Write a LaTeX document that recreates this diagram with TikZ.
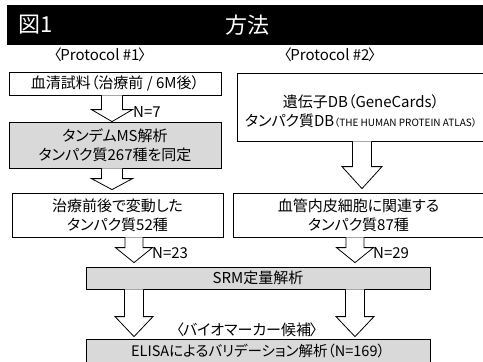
\documentclass[tikz,border=0pt]{standalone}
\usepackage{fontspec}
\setmainfont{Noto Sans CJK JP}[RawFeature=+palt]
\usetikzlibrary{calc}
\definecolor{boxgray}{HTML}{D9D9D9}
\newcommand{\blockarr}[7]{%
  \draw[blk] ($(#1.south -| #3)+(-#4,0)$) -- ($(#2.north -| #3)+(-#4,-#6-#7)$)
    -- ($(#2.north -| #3)+(-#5,-#6-#7)$) -- ($(#2.north -| #3)+(0,-#7)$)
    -- ($(#2.north -| #3)+(#5,-#6-#7)$) -- ($(#2.north -| #3)+(#4,-#6-#7)$)
    -- ($(#1.south -| #3)+(#4,0)$);
}
\newcommand{\lbr}{〈\kern-1pt}
\newcommand{\rbr}{\kern-1pt〉}
\begin{document}
\begin{tikzpicture}[x=1pt,y=-1pt,
  txt/.style={font=\fontsize{15}{19}\selectfont},
  box/.style={txt, draw=black, line width=0.8pt, inner sep=0pt, align=center},
  graybox/.style={box, fill=boxgray},
  lbl/.style={txt, inner sep=0pt},
  blk/.style={draw=black, fill=white, line width=0.8pt, line join=miter}]
\useasboundingbox (0,0) rectangle (483,362);
\clip (0,0) rectangle (483,362);
% title bar
\node[fill=black, inner sep=0pt, minimum width=480pt, minimum height=40pt] (bar) at (247,25) {};
\node[text=white, font=\fontsize{22}{22}\selectfont, inner sep=0pt] (fig) at (36,25) {図1};
\node[text=white, font=\fontsize{22}{22}\selectfont, inner sep=0pt] (ttl) at (247,25) {方法};
% protocol labels
\node[lbl] (p1) at (100,55) {\lbr Protocol \#1\rbr};
\node[lbl] (p2) at (330,55) {\lbr Protocol \#2\rbr};
% left column
\node[box, minimum width=212pt, minimum height=23pt] (s1) at (115,83.5) {血清試料（治療前 / 6M後）};
\node[graybox, minimum width=212pt, minimum height=46pt] (ms) at (115,145) {タンデムMS解析\\タンパク質267種を同定};
\node[box, minimum width=211pt, minimum height=44pt] (b3) at (117.5,215) {治療前後で変動した\\タンパク質52種};
% right column
\node[box, minimum width=247pt, minimum height=68pt] (db) at (360.5,107) {};
\node[lbl, align=center] (dbt) at (361,111.5) {遺伝子DB（GeneCards）\\タンパク質DB{\fontsize{10}{12}\selectfont （THE HUMAN PROTEIN ATLAS）}};
\node[box, minimum width=251pt, minimum height=44pt] (r3) at (358.5,215) {血管内皮細胞に関連する\\タンパク質87種};
% bottom
\node[graybox, minimum width=344pt, minimum height=22pt] (srm) at (258,278) {SRM定量解析};
\node[graybox, minimum width=344pt, minimum height=24pt] (el) at (258,351) {\fontsize{14.5}{19}\selectfont ELISAによるバリデーション解析（N=169）};
\node[lbl] (bm) at (247,330) {\lbr バイオマーカー候補\rbr};
% arrow centres
\coordinate (cA) at (112,0);
\coordinate (cB) at (362,0);
\coordinate (cL) at (134,0);
\coordinate (cR) at (355,0);
\blockarr{s1}{ms}{cA}{10.5}{20.5}{12}{0}
\blockarr{ms}{b3}{cA}{10.5}{20.5}{11}{3}
\blockarr{db}{r3}{cB}{9.5}{20}{22}{4}
\blockarr{b3}{srm}{cL}{9}{18.5}{15}{4}
\blockarr{r3}{srm}{cR}{9}{18.5}{15}{4}
\blockarr{srm}{el}{cL}{9.5}{19}{20}{2}
\blockarr{srm}{el}{cR}{9.5}{19}{20}{2}
% N labels
\node[lbl, anchor=west] (n7) at (133,112) {N=7};
\node[lbl, anchor=west] (n23) at (152,253) {N=23};
\node[lbl, anchor=west] (n29) at (373,253) {N=29};
\end{tikzpicture}
\end{document}
